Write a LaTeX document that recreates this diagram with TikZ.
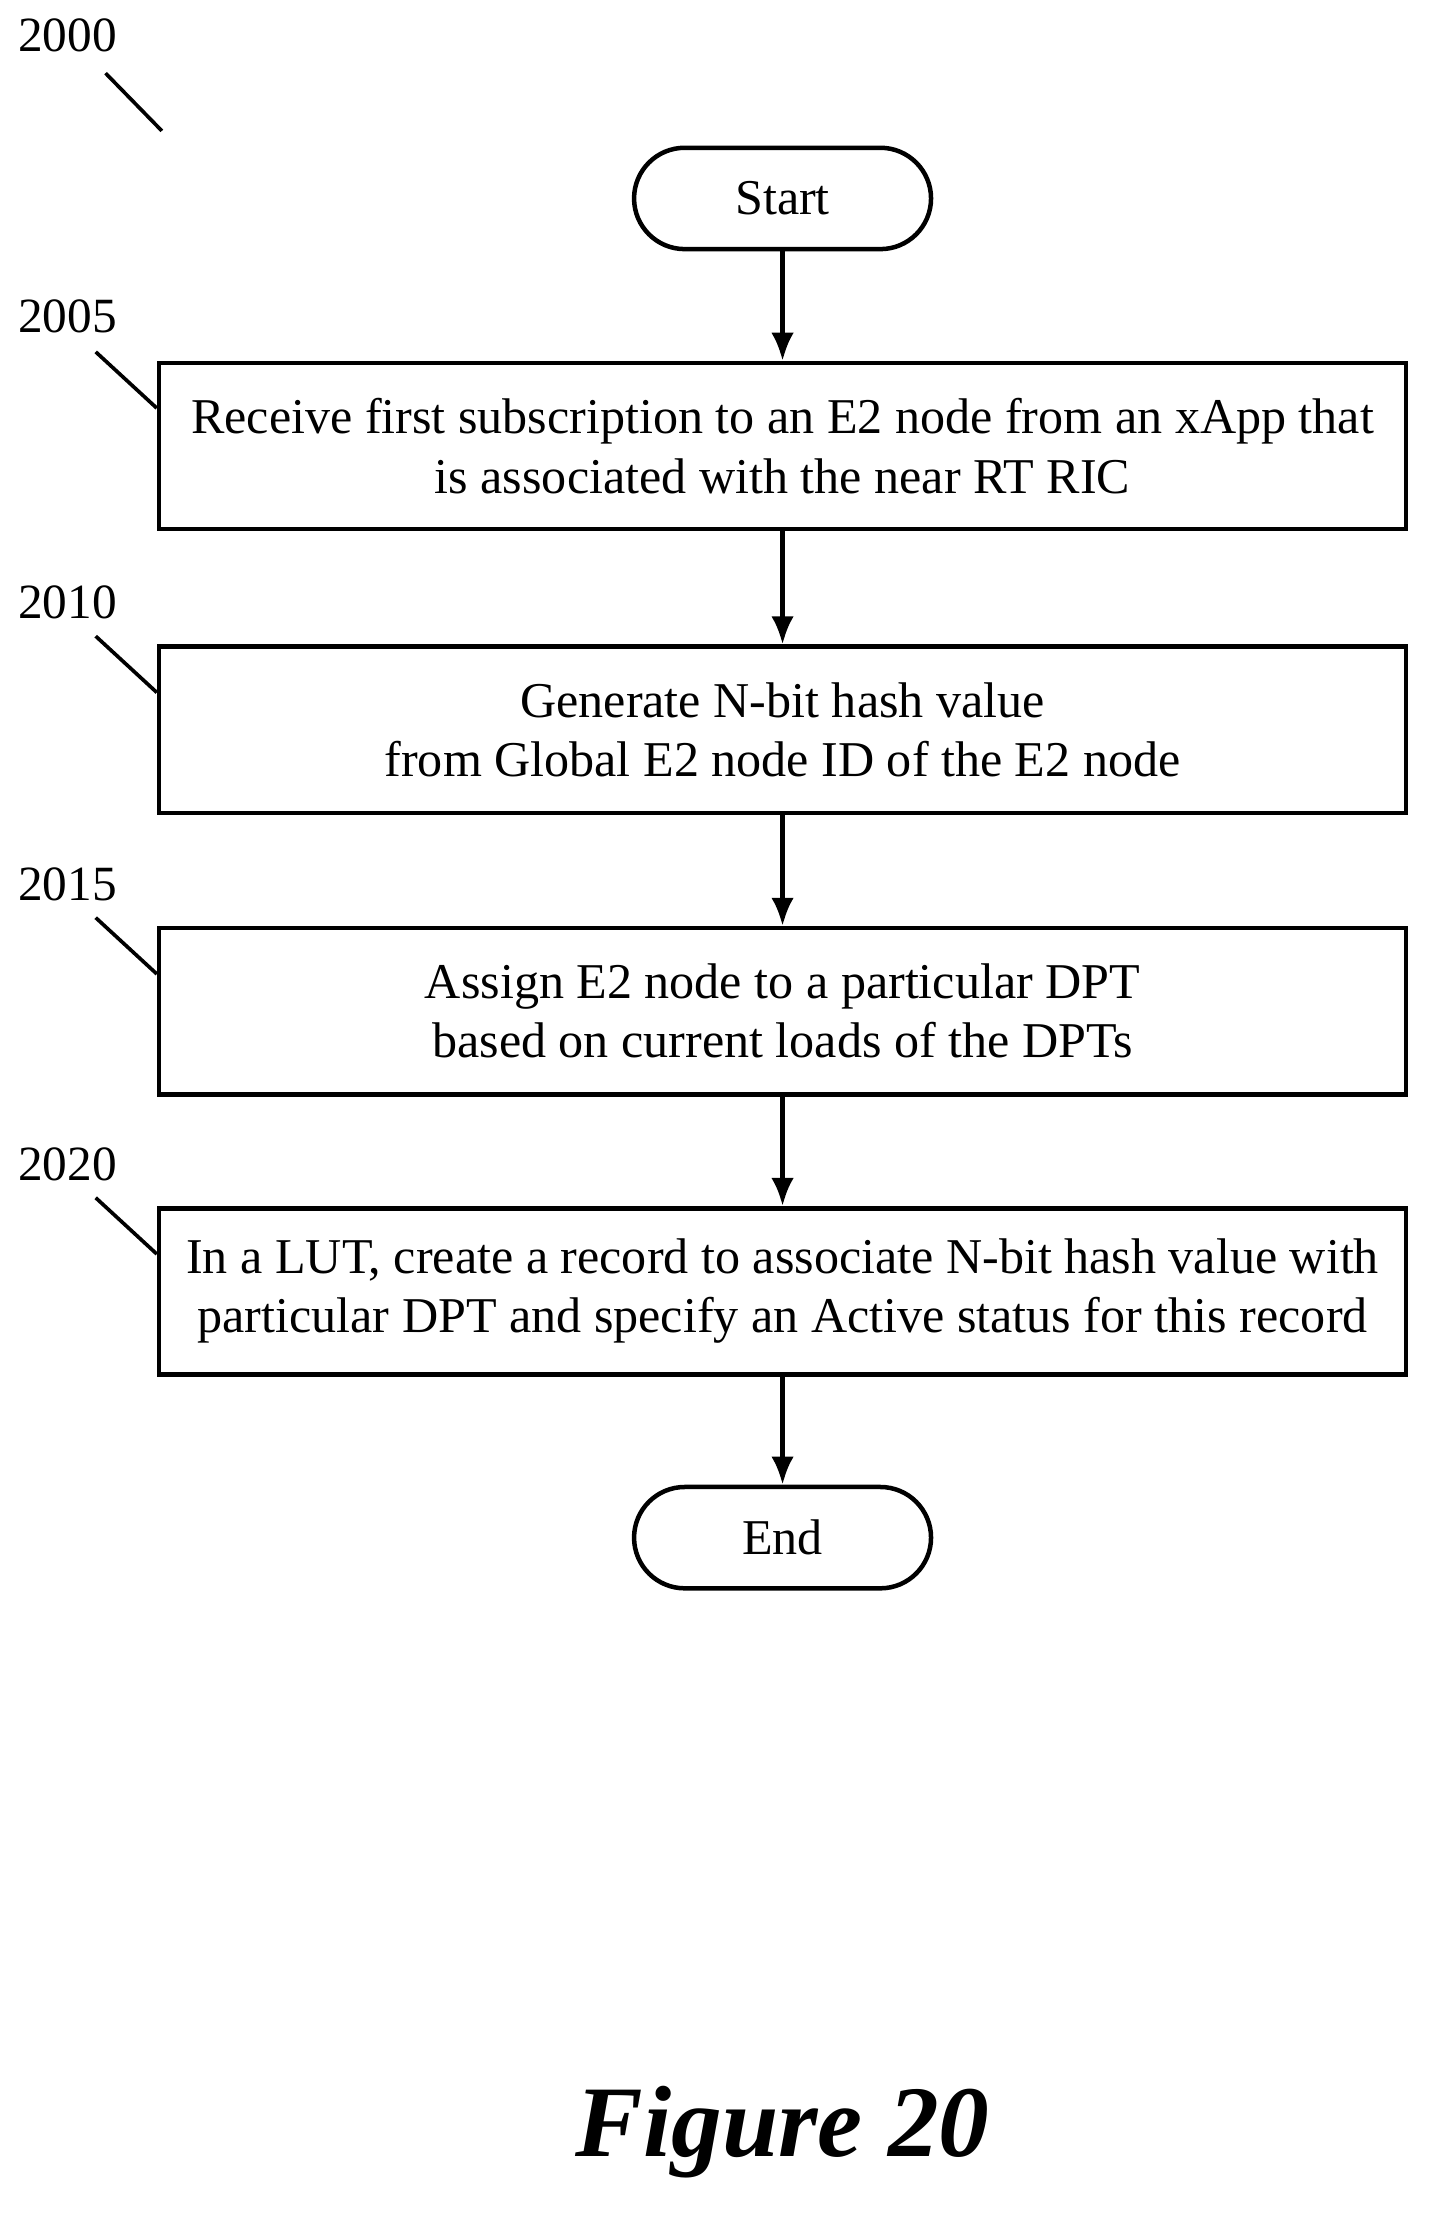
\documentclass[tikz,border=0pt]{standalone}
\usepackage{fontspec}
\setmainfont{Liberation Serif}
\usetikzlibrary{arrows.meta,positioning}
\begin{document}
\begin{tikzpicture}[x=0.5pt,y=-0.5pt]

\tikzset{box/.style = {shape=rectangle,draw,line width=1.6pt,minimum width=443pt,minimum height=59pt,align=center,font=\fontsize{17.8}{21}\selectfont}}
\tikzset{term/.style = {shape=rectangle,rounded corners=18pt,draw,line width=1.6pt,minimum width=105.5pt,minimum height=36pt,font=\fontsize{17.8}{18}\selectfont}}
\tikzset{edge/.style = {-{Latex[length=10pt,width=8pt]},line width=1.6pt}}
\tikzset{lbl/.style = {font=\fontsize{17.5}{18}\selectfont}}

\useasboundingbox (0,0) rectangle (1024,1583);

\node[term] (start) at (556,141) {Start};
\node[box] (s2005) at (556,317) {Receive first subscription to an E2 node from an xApp that\\is associated with the near RT RIC};
\node[box] (s2010) at (556,518.5) {Generate N-bit hash value\\from Global E2 node ID of the E2 node};
\node[box] (s2015) at (556,718.5) {Assign E2 node to a particular DPT\\based on current loads of the DPTs};
\node[box] (s2020) at (556,917.5) {In a LUT, create a record to associate N-bit hash value with\\particular DPT and specify an Active status for this record};
\node[term] (end) at (556,1092.5) {End};

\draw[edge] (start) -- (s2005);
\draw[edge] (s2005) -- (s2010);
\draw[edge] (s2010) -- (s2015);
\draw[edge] (s2015) -- (s2020);
\draw[edge] (s2020) -- (end);

% reference numerals
\node[lbl] (n2000) at (48,25) {2000};
\draw[line width=1.3pt] (75,52) -- (115,93);
\node[lbl] (n2005) at (48,225) {2005};
\draw[line width=1.3pt] (68,250) -- (s2005.west |- 0,290);
\node[lbl] (n2010) at (48,428) {2010};
\draw[line width=1.3pt] (68,452) -- (s2010.west |- 0,492);
\node[lbl] (n2015) at (48,628) {2015};
\draw[line width=1.3pt] (68,652) -- (s2015.west |- 0,692);
\node[lbl] (n2020) at (48,827) {2020};
\draw[line width=1.3pt] (68,851) -- (s2020.west |- 0,891);

\node[font=\fontsize{36}{40}\selectfont\bfseries\itshape] (fig) at (556,1515) {Figure 20};

\end{tikzpicture}
\end{document}
